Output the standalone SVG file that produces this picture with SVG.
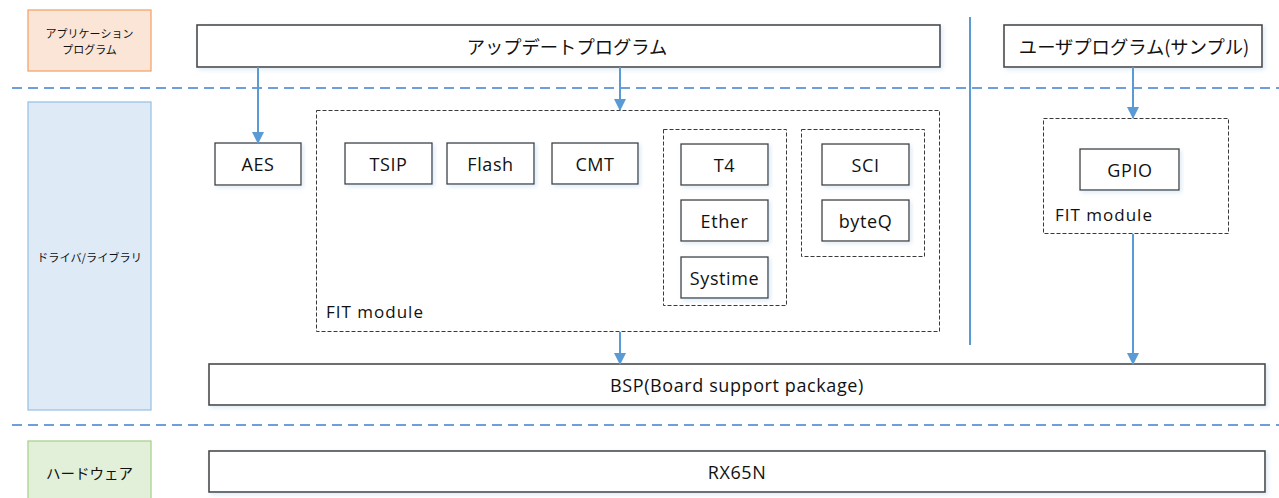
<svg xmlns="http://www.w3.org/2000/svg" width="1279" height="498" viewBox="0 0 1279 498">
<style>
  .box{fill:#fff;stroke:#404040;stroke-width:1.3}
  .big{fill:#fff;stroke:#4a4a4a;stroke-width:1.6}
  .dash{fill:none;stroke:#3a3a3a;stroke-width:1;stroke-dasharray:4 2}
  .t{font-family:"Open Sans","Liberation Sans","Noto Sans CJK JP",sans-serif;font-size:18px;letter-spacing:0.6px;fill:#111;text-anchor:middle;dominant-baseline:central}
  .jp{font-family:"Noto Sans CJK JP","Noto Sans",sans-serif;fill:#111;text-anchor:middle;dominant-baseline:central}
  .lbl{font-family:"Open Sans","Liberation Sans",sans-serif;font-size:17px;letter-spacing:1px;fill:#111;dominant-baseline:central}
  .sep{stroke:#6f9fd8;stroke-width:2;stroke-dasharray:10 6}
  .conn{stroke:#5b9bd5;stroke-width:2;fill:none}
</style>
<defs>
  <marker id="arr" viewBox="0 0 12 12" refX="11" refY="6" markerWidth="12" markerHeight="12" markerUnits="userSpaceOnUse" orient="auto">
    <path d="M0,0 L12,6 L0,12 Z" fill="#5b9bd5"/>
  </marker>
  <filter id="sh" x="-5%" y="-20%" width="110%" height="140%">
    <feDropShadow dx="2" dy="2" stdDeviation="2" flood-color="#9dc3e6" flood-opacity="0.35"/>
  </filter>
</defs>

<g id="separators">
  <line class="sep" x1="12" y1="88" x2="1279" y2="88"/>
  <line class="sep" x1="12" y1="425" x2="1279" y2="425"/>
  <line x1="970" y1="17" x2="970" y2="345" stroke="#5b9bd5" stroke-width="2"/>
</g>

<g id="layer-app">
  <rect x="28" y="10" width="123" height="61" fill="#fbe5d6" stroke="#f4a46c" stroke-width="1.3"/>
  <text class="jp" x="89.5" y="33" font-size="11">アプリケーション</text>
  <text class="jp" x="89.5" y="49" font-size="11">プログラム</text>
</g>
<g id="layer-driver">
  <rect x="28" y="102" width="123" height="308" fill="#deebf7" stroke="#9dc3e6" stroke-width="1.3"/>
  <text class="jp" x="89.5" y="257" font-size="11.2">ドライバ/ライブラリ</text>
</g>
<g id="layer-hw">
  <rect x="28" y="441" width="123" height="62" fill="#e2f0d9" stroke="#a9d18e" stroke-width="1.3"/>
  <text class="jp" x="89.5" y="472" font-size="14.5">ハードウェア</text>
</g>

<g id="update-program">
  <rect class="big" x="197" y="25" width="743" height="42" filter="url(#sh)"/>
  <text class="jp" x="567" y="46" font-size="18.3">アップデートプログラム</text>
</g>
<g id="user-program">
  <rect class="big" x="1004" y="25" width="258" height="42" filter="url(#sh)"/>
  <text class="jp" x="1134" y="46" font-size="18.3">ユーザプログラム(サンプル)</text>
</g>

<g id="aes">
  <rect class="box" x="215" y="143" width="86" height="42" filter="url(#sh)"/>
  <text class="t" x="258" y="164">AES</text>
</g>

<g id="fit-module">
  <rect class="dash" x="316.5" y="110.5" width="623" height="221"/>
  <text class="lbl" x="326" y="311">FIT module</text>
</g>
<g id="tsip">
  <rect class="box" x="345" y="143" width="87" height="41" filter="url(#sh)"/>
  <text class="t" x="388.5" y="164" letter-spacing="1.5">TSIP</text>
</g>
<g id="flash">
  <rect class="box" x="447" y="143" width="87" height="41" filter="url(#sh)"/>
  <text class="t" x="490.5" y="164">Flash</text>
</g>
<g id="cmt">
  <rect class="box" x="552" y="143" width="86" height="41" filter="url(#sh)"/>
  <text class="t" x="595" y="164" letter-spacing="1.2">CMT</text>
</g>
<g id="net-group">
  <rect class="dash" x="663.5" y="129.5" width="123" height="176"/>
</g>
<g id="t4">
  <rect class="box" x="681" y="144" width="87" height="41" filter="url(#sh)"/>
  <text class="t" x="724.5" y="165">T4</text>
</g>
<g id="ether">
  <rect class="box" x="681" y="200" width="87" height="41" filter="url(#sh)"/>
  <text class="t" x="724.5" y="221">Ether</text>
</g>
<g id="systime">
  <rect class="box" x="681" y="257" width="87" height="41" filter="url(#sh)"/>
  <text class="t" x="724.5" y="278">Systime</text>
</g>
<g id="sci-group">
  <rect class="dash" x="801.5" y="129.5" width="123" height="127"/>
</g>
<g id="sci">
  <rect class="box" x="822" y="144" width="87" height="41" filter="url(#sh)"/>
  <text class="t" x="865.5" y="165">SCI</text>
</g>
<g id="byteq">
  <rect class="box" x="822" y="200" width="87" height="41" filter="url(#sh)"/>
  <text class="t" x="865.5" y="221">byteQ</text>
</g>

<g id="fit-module-gpio">
  <rect class="dash" x="1043.5" y="118.5" width="185" height="115"/>
  <text class="lbl" x="1055" y="214" font-size="15" letter-spacing="0.3">FIT module</text>
</g>
<g id="gpio">
  <rect class="box" x="1080" y="149" width="99" height="41" filter="url(#sh)"/>
  <text class="t" x="1130" y="170">GPIO</text>
</g>

<g id="bsp">
  <rect class="big" x="209" y="364" width="1056" height="41" filter="url(#sh)"/>
  <text class="t" x="737" y="385">BSP(Board support package)</text>
</g>
<g id="rx65n">
  <rect class="big" x="209" y="451" width="1056" height="41" filter="url(#sh)"/>
  <text class="t" x="737" y="472">RX65N</text>
</g>

<g id="connectors">
  <line class="conn" x1="258" y1="67" x2="258" y2="143" marker-end="url(#arr)"/>
  <line class="conn" x1="620" y1="67" x2="620" y2="110" marker-end="url(#arr)"/>
  <line class="conn" x1="1133" y1="67" x2="1133" y2="118" marker-end="url(#arr)"/>
  <line class="conn" x1="620" y1="332" x2="620" y2="364" marker-end="url(#arr)"/>
  <line class="conn" x1="1133" y1="234" x2="1133" y2="364" marker-end="url(#arr)"/>
</g>
</svg>
